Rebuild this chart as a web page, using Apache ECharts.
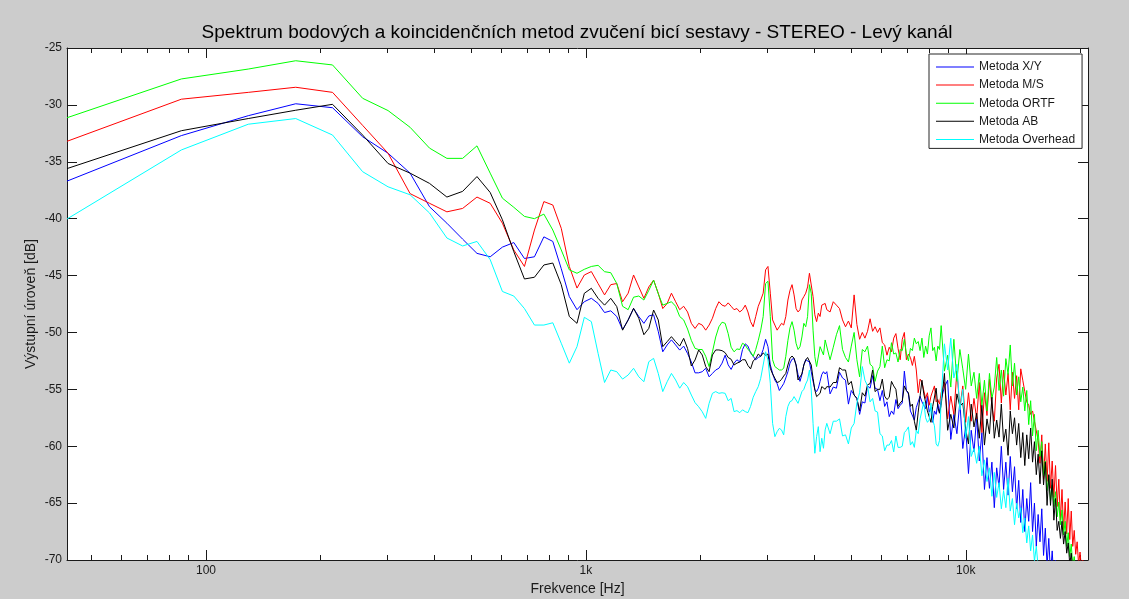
<!DOCTYPE html>
<html>
<head>
<meta charset="utf-8">
<script src="https://cdn.jsdelivr.net/npm/echarts@6/dist/echarts.min.js"></script>
<style>
  html, body { margin: 0; padding: 0; background: #cccccc; }
  #chart { width: 1129px; height: 599px; }
</style>
</head>
<body>
<div id="chart"></div>
<script>
// FFT bin grid (44.1 kHz, 1024-point FFT); dense at low bins, thinner towards Nyquist
const SAMPLE_RATE = 44100;
const FFT_SIZE = 1024;
const binHz = SAMPLE_RATE / FFT_SIZE;
function range(a, b, step) { const r = []; for (let k = a; k <= b; k += step) r.push(k); return r; }
const bins = [].concat(range(1, 100, 1), range(102, 200, 2), range(204, 484, 4), [487]);
const freqs = bins.map(k => k * binHz);

const seriesNames = ['Metoda X/Y', 'Metoda M/S', 'Metoda ORTF', 'Metoda AB', 'Metoda Overhead'];
const seriesColors = ['#0000ff', '#ff0000', '#00ff00', '#000000', '#00ffff'];

// Output level [dB] per bin
const xyLevels = [
  -36.7, -32.7, -30.95, -29.9, -30.25, -32.8, -34.25, -36.0, -38.95, -40.4,
  -41.8, -43.05, -43.35, -42.5, -42.1, -43.5, -43.35, -41.6, -42.0, -44.4,
  -46.85, -48.0, -47.3, -47.0, -47.45, -48.25, -48.1, -48.6, -49.75, -48.9,
  -47.9, -48.6, -49.2, -48.55, -48.45, -49.9, -51.7, -51.1, -50.65, -51.1,
  -51.55, -51.2, -51.85, -52.6, -53.55, -53.55, -53.45, -53.15, -53.9, -53.6,
  -53.3, -53.15, -52.7, -52.0, -52.85, -53.25, -52.7, -52.4, -52.6, -51.5,
  -51.0, -51.2, -51.8, -52.1, -52.4, -52.2, -52.1, -51.5, -50.6, -51.25,
  -52.85, -53.6, -54.2, -54.5, -55.1, -54.8, -54.5, -54.0, -53.45, -52.7,
  -52.35, -52.3, -52.85, -53.7, -54.3, -53.7, -52.85, -52.4, -52.35, -52.6,
  -53.45, -54.3, -55.0, -55.2, -54.9, -54.3, -53.7, -53.45, -53.65, -53.45,
  -55.4, -54.8, -54.9, -53.5, -54.0, -54.2, -56.3, -55.1, -55.5, -55.8,
  -57.2, -56.1, -56.2, -54.7, -54.9, -53.8, -54.9, -55.0, -56.0, -55.1,
  -56.5, -56.1, -57.4, -56.9, -57.2, -55.9, -56.7, -56.4, -56.2, -53.4,
  -55.1, -55.4, -56.9, -56.8, -57.7, -56.6, -56.7, -55.6, -56.1, -56.0,
  -56.7, -55.6, -57.0, -56.6, -57.9, -56.9, -57.2, -56.3, -57.0, -55.9,
  -54.8, -54.2, -59.4, -57.2, -58.9, -56.1, -60.2, -58.3, -62.4, -58.6,
  -60.5, -57.4, -61.3, -58.8, -63.8, -61.0, -63.7, -61.4, -65.4, -61.9,
  -63.6, -60.0, -63.8, -61.4, -64.3, -60.9, -64.0, -61.8, -65.5, -63.0,
  -66.7, -63.8, -67.5, -64.6, -66.6, -63.2, -67.5, -65.0, -68.8, -66.0,
  -68.4, -65.5, -69.6, -67.2, -70.5, -68.1, -71.3, -69.2, -71.8, -70.0,
  -71.4, -71.1, -71.8, -71.6, -72.2, -72.0, -72.6, -72.4, -73.0, -72.8,
  -73.4, -73.2, -73.8, -73.6, -74.2, -74.0, -74.6, -74.4, -75.0, -74.8, -75.3,
  -75.5
];

const msLevels = [
  -33.2, -29.5, -28.9, -28.45, -28.9, -31.8, -34.25, -37.8, -38.65, -39.4,
  -39.1, -38.1, -38.65, -40.4, -42.75, -44.2, -41.0, -38.5, -38.8, -40.85,
  -44.2, -46.1, -44.95, -44.65, -45.7, -46.7, -45.8, -45.7, -47.3, -46.55,
  -44.95, -46.0, -47.0, -46.0, -45.4, -46.55, -47.9, -47.45, -46.55, -47.3,
  -48.0, -47.7, -48.2, -49.2, -49.65, -49.2, -49.35, -49.8, -49.35, -48.75,
  -47.9, -47.3, -47.6, -47.7, -47.4, -47.7, -48.0, -47.9, -48.2, -48.0,
  -47.6, -48.2, -49.05, -49.5, -48.6, -47.7, -47.15, -46.55, -44.5, -44.2,
  -46.55, -48.9, -49.35, -49.8, -49.5, -49.2, -49.35, -48.6, -47.15, -46.3,
  -45.8, -46.7, -47.9, -48.2, -48.0, -47.15, -46.85, -46.55, -46.0, -44.8,
  -44.65, -46.85, -48.45, -49.05, -48.3, -48.6, -47.6, -47.7, -47.45, -48.0,
  -48.2, -47.3, -47.6, -47.9, -48.9, -49.5, -49.0, -49.6, -46.7, -49.3,
  -50.6, -50.0, -50.5, -49.9, -48.8, -49.9, -49.5, -50.0, -49.6, -50.9,
  -51.1, -52.0, -51.3, -51.7, -50.5, -50.1, -51.4, -52.4, -50.6, -50.0,
  -52.4, -51.9, -52.2, -52.9, -52.1, -53.3, -55.3, -54.1, -54.4, -54.5,
  -55.8, -55.3, -56.4, -55.6, -55.7, -54.7, -56.1, -55.9, -56.3, -55.3,
  -54.4, -57.6, -55.6, -57.2, -53.4, -56.6, -54.7, -57.9, -55.3, -57.8,
  -55.8, -57.6, -54.4, -58.8, -55.3, -57.3, -54.1, -56.5, -57.8, -54.0,
  -52.8, -56.2, -53.3, -55.5, -53.6, -56.8, -53.5, -55.8, -53.8, -56.8,
  -53.2, -54.2, -55.2, -56.1, -56.4, -57.2, -56.9, -57.8, -57.9, -59.5,
  -61.5, -59.0, -62.9, -59.8, -63.1, -59.7, -63.7, -61.3, -64.5, -61.7,
  -65.3, -62.9, -66.5, -63.8, -67.4, -64.9, -67.7, -64.6, -68.2, -65.7,
  -68.8, -67.4, -69.5, -68.4, -70.4, -69.3, -70.7, -70.0, -71.3, -70.8, -71.9,
  -72.0
];

const ortfLevels = [
  -31.13, -27.72, -26.85, -26.12, -26.49, -29.42, -30.5, -31.97, -33.8, -34.7,
  -34.7, -33.6, -36.0, -38.2, -39.0, -39.8, -40.0, -39.6, -41.0, -42.75,
  -44.5, -44.8, -44.45, -44.2, -44.1, -44.66, -44.75, -45.7, -47.7, -48.0,
  -46.9, -46.8, -47.15, -46.3, -45.4, -46.6, -47.6, -47.45, -47.3, -47.7,
  -48.6, -48.9, -49.7, -50.7, -51.4, -51.5, -51.5, -52.1, -53.0, -51.7,
  -50.4, -49.5, -49.1, -49.2, -50.1, -51.3, -51.7, -51.45, -51.5, -50.95,
  -51.1, -51.5, -51.7, -52.1, -51.5, -50.7, -49.8, -48.6, -45.7, -45.5,
  -48.6, -52.4, -53.0, -53.15, -53.3, -53.3, -53.15, -52.1, -50.7, -49.6,
  -49.05, -49.8, -50.95, -51.5, -51.25, -50.4, -49.2, -49.5, -48.6, -45.8,
  -46.56, -49.8, -52.13, -53.0, -52.86, -51.25, -51.1, -51.98, -50.66, -50.5,
  -52.4, -51.3, -50.2, -49.4, -51.5, -52.2, -52.6, -51.2, -50.0, -52.4,
  -53.9, -51.5, -51.7, -51.2, -52.8, -53.0, -54.3, -53.4, -53.0, -51.2,
  -53.1, -52.4, -52.5, -50.9, -51.9, -51.8, -52.6, -51.5, -51.6, -50.6,
  -51.9, -52.5, -51.4, -51.6, -50.5, -51.0, -50.8, -51.6, -50.5, -52.2,
  -51.2, -51.9, -50.3, -49.6, -51.6, -51.3, -52.5, -51.2, -51.5, -49.4,
  -53.4, -52.0, -54.8, -50.6, -54.3, -51.5, -53.2, -55.0, -51.9, -54.7,
  -53.5, -55.8, -53.6, -56.4, -54.2, -56.9, -53.6, -55.8, -54.8, -52.2,
  -55.1, -53.3, -55.6, -52.3, -53.7, -51.1, -54.7, -52.7, -55.5, -53.9,
  -56.1, -54.8, -56.9, -55.1, -58.1, -56.0, -59.1, -57.2, -60.4, -58.6,
  -60.9, -59.6, -62.6, -61.3, -63.9, -62.6, -64.8, -63.4, -65.3, -64.0,
  -66.2, -64.9, -66.9, -65.6, -67.8, -66.6, -68.8, -67.6, -69.7, -68.6,
  -70.6, -69.7, -71.3, -70.5, -71.9, -71.2, -72.4, -71.8, -72.9, -72.4, -73.3,
  -73.2
];

const abLevels = [
  -35.6, -32.27, -31.2, -30.47, -29.95, -32.65, -35.15, -36.0, -36.9, -38.1,
  -37.6, -36.3, -37.7, -40.1, -42.9, -45.3, -45.15, -44.07, -43.9, -45.8,
  -48.6, -49.2, -46.56, -46.12, -47.0, -47.6, -47.0, -47.73, -49.8, -48.9,
  -47.88, -48.76, -50.2, -49.64, -48.03, -48.9, -51.25, -50.81, -50.37, -50.81,
  -51.2, -50.52, -51.4, -52.95, -52.42, -51.54, -51.98, -53.0, -53.45, -51.98,
  -51.54, -51.54, -51.6, -51.78, -52.2, -52.36, -52.86, -52.7, -52.6, -52.4,
  -52.4, -52.9, -53.2, -52.5, -52.3, -51.9, -52.1, -51.8, -52.0, -51.9,
  -53.15, -53.65, -54.03, -54.4, -54.32, -54.12, -53.83, -53.6, -52.86, -52.27,
  -52.07, -52.27, -52.86, -54.18, -54.03, -53.65, -52.86, -52.42, -52.2, -52.36,
  -52.86, -54.03, -55.06, -55.64, -55.8, -55.35, -54.76, -54.9, -55.0, -54.76,
  -54.8, -54.4, -54.4, -53.1, -53.3, -53.3, -54.6, -54.3, -55.5, -55.8,
  -56.9, -55.3, -55.6, -54.6, -54.5, -53.3, -55.2, -55.0, -55.0, -54.1,
  -55.6, -55.9, -55.7, -54.3, -54.7, -55.0, -56.5, -56.2, -56.0, -54.7,
  -55.1, -55.3, -56.5, -56.3, -57.8, -58.6, -57.0, -55.6, -54.2, -55.4,
  -55.3, -56.9, -56.8, -57.9, -56.5, -56.6, -54.9, -56.6, -57.1, -56.4,
  -53.6, -58.6, -57.2, -58.4, -55.4, -56.5, -56.2, -58.5, -59.8, -56.3,
  -58.3, -57.1, -59.3, -56.4, -59.9, -57.6, -58.9, -55.7, -59.3, -57.7,
  -59.2, -56.3, -59.6, -58.5, -60.8, -56.9, -58.9, -57.5, -59.9, -58.0,
  -61.0, -58.8, -61.7, -59.0, -61.1, -58.4, -61.4, -59.6, -62.5, -60.7,
  -63.3, -60.4, -63.4, -61.4, -65.2, -62.5, -65.2, -62.9, -66.5, -64.6,
  -67.4, -66.6, -68.1, -66.6, -68.6, -67.5, -69.4, -68.5, -70.4, -69.4,
  -71.0, -70.3, -71.5, -70.8, -71.9, -71.3, -72.4, -71.8, -72.8, -72.3, -73.2,
  -73.2
];

const overheadLevels = [
  -40.03, -33.96, -31.7, -31.2, -32.65, -35.87, -37.2, -37.9, -39.5, -41.7,
  -42.4, -42.0, -43.6, -46.4, -46.8, -47.9, -49.35, -49.35, -49.15, -50.95,
  -52.7, -51.25, -48.67, -49.05, -51.84, -54.4, -53.3, -53.45, -54.1, -53.74,
  -53.15, -53.9, -54.33, -52.57, -52.28, -53.6, -55.2, -54.33, -53.6, -54.18,
  -54.9, -54.4, -54.77, -55.5, -56.17, -56.53, -56.97, -57.55, -56.23, -55.35,
  -55.2, -55.35, -55.3, -55.35, -56.0, -55.8, -56.96, -56.87, -57.05, -56.8,
  -56.96, -57.05, -56.5, -55.7, -55.2, -54.76, -54.03, -52.86, -51.7, -52.42,
  -54.47, -57.99, -59.16, -58.72, -58.43, -58.57, -59.0, -57.4, -56.5, -56.08,
  -55.99, -55.64, -55.5, -56.23, -56.08, -55.2, -55.0, -54.53, -54.18, -53.3,
  -55.06, -57.99, -60.62, -59.16, -58.28, -60.48, -59.3, -60.18, -58.57, -57.99,
  -58.9, -57.8, -57.8, -57.6, -59.1, -59.0, -59.8, -58.4, -58.0, -56.2,
  -55.3, -53.0, -54.2, -54.7, -56.1, -55.8, -56.9, -57.0, -58.9, -59.1,
  -60.4, -59.9, -59.9, -59.5, -60.5, -59.1, -60.1, -60.1, -60.0, -58.8,
  -58.6, -58.3, -59.9, -59.6, -60.1, -58.6, -58.9, -57.6, -57.7, -56.1,
  -57.5, -57.9, -57.7, -56.2, -57.7, -58.2, -59.8, -60.0, -59.5, -55.9,
  -51.0, -53.3, -50.5, -54.0, -52.8, -56.8, -55.0, -59.3, -57.4, -60.9,
  -60.2, -61.5, -60.0, -62.6, -61.2, -63.1, -61.9, -64.4, -62.3, -64.5,
  -63.2, -65.5, -63.9, -65.4, -62.8, -65.7, -64.6, -66.9, -65.0, -66.3,
  -65.4, -67.6, -66.3, -68.5, -67.0, -69.2, -67.8, -70.1, -68.8, -70.6,
  -70.1, -70.9, -70.6, -71.3, -71.1, -71.8, -71.6, -72.2, -72.0, -72.6,
  -72.5, -73.0, -72.9, -73.4, -73.3, -73.8, -73.7, -74.2, -74.1, -74.6,
  -74.5, -75.0, -74.9, -75.4, -75.3, -75.8, -75.7, -76.2, -76.1, -76.6, -76.5,
  -77.0
];

const levelSets = [xyLevels, msLevels, ortfLevels, abLevels, overheadLevels];

// Axis ticks
const majorTicks = [100, 1000, 10000];
const minorTicks = [50, 60, 70, 80, 90, 200, 300, 400, 500, 600, 700, 800, 900,
  2000, 3000, 4000, 5000, 6000, 7000, 8000, 9000, 20000];
const yMin = -70, yMax = -25, yStep = 5;

const FONT = '"Liberation Sans", Arial, sans-serif';
const AXIS_COLOR = '#1a1a1a';
const fMin = freqs[0], fMax = freqs[freqs.length - 1];

function freqLabel(v) {
  const r = Math.round(v);
  return r >= 1000 ? (r / 1000) + 'k' : String(r);
}

function logAxis(position, ticks, len, opts) {
  return Object.assign({
    type: 'log', logBase: 10, min: fMin, max: fMax, position: position,
    axisLine: { show: false, onZero: false },
    axisTick: { show: true, inside: true, length: len, customValues: ticks,
                lineStyle: { color: AXIS_COLOR, width: 1 } },
    axisLabel: { show: false },
    splitLine: { show: false }, minorTick: { show: false }
  }, opts || {});
}

const chart = echarts.init(document.getElementById('chart'), null, { renderer: 'canvas' });

chart.setOption({
  animation: false,
  backgroundColor: '#cccccc',
  textStyle: { fontFamily: FONT },
  title: {
    text: 'Spektrum bodových a koincidenčních metod zvučení bicí sestavy - STEREO - Levý kanál',
    left: 577, top: 23, textAlign: 'center', padding: 0,
    textStyle: { fontFamily: FONT, fontSize: 19, fontWeight: 'normal', color: '#000' }
  },
  grid: {
    left: 67, right: 41, top: 48, bottom: 39,
    show: true, backgroundColor: '#ffffff', borderWidth: 0,
    containLabel: false, outerBoundsMode: 'none'
  },
  legend: {
    data: seriesNames, orient: 'vertical', left: 929, top: 54,
    padding: [7, 7, 3, 7], itemGap: 6.1, itemWidth: 38, itemHeight: 1,
    icon: 'rect', backgroundColor: '#ffffff', borderColor: '#262626', borderWidth: 1,
    textStyle: { fontFamily: FONT, fontSize: 12, color: '#1a1a1a' }
  },
  xAxis: [
    logAxis('bottom', majorTicks, 10, {
      axisLine: { show: true, onZero: false, lineStyle: { color: AXIS_COLOR, width: 1 } },
      axisLabel: { show: true, customValues: majorTicks, formatter: freqLabel, margin: 5,
                   fontFamily: FONT, fontSize: 12, color: '#1a1a1a' },
      name: 'Frekvence [Hz]', nameLocation: 'middle', nameGap: 22, nameMoveOverlap: false,
      nameTextStyle: { fontFamily: FONT, fontSize: 14, color: '#1a1a1a' }
    }),
    logAxis('bottom', minorTicks, 5),
    logAxis('top', majorTicks, 10, {
      axisLine: { show: true, onZero: false, lineStyle: { color: AXIS_COLOR, width: 1 } }
    }),
    logAxis('top', minorTicks, 5)
  ],
  yAxis: [
    {
      type: 'value', min: yMin, max: yMax, interval: yStep, position: 'left',
      axisLine: { show: true, onZero: false, lineStyle: { color: AXIS_COLOR, width: 1 } },
      axisTick: { show: true, inside: true, length: 10, lineStyle: { color: AXIS_COLOR } },
      axisLabel: { margin: 5, fontFamily: FONT, fontSize: 12, color: '#1a1a1a' },
      splitLine: { show: false },
      name: 'Výstupní úroveň [dB]', nameLocation: 'middle', nameGap: 29, nameMoveOverlap: false,
      nameTextStyle: { fontFamily: FONT, fontSize: 14, color: '#1a1a1a' }
    },
    {
      type: 'value', min: yMin, max: yMax, interval: yStep, position: 'right',
      axisLine: { show: true, onZero: false, lineStyle: { color: AXIS_COLOR, width: 1 } },
      axisTick: { show: true, inside: true, length: 10, lineStyle: { color: AXIS_COLOR } },
      axisLabel: { show: false },
      splitLine: { show: false }
    }
  ],
  series: seriesNames.map((name, i) => ({
    name: name,
    type: 'line',
    xAxisIndex: 0,
    yAxisIndex: 0,
    showSymbol: false,
    symbol: 'none',
    clip: true,
    color: seriesColors[i],
    lineStyle: { width: 1, color: seriesColors[i] },
    emphasis: { disabled: true },
    data: freqs.map((f, j) => [f, levelSets[i][j]])
  }))
});
</script>
</body>
</html>
